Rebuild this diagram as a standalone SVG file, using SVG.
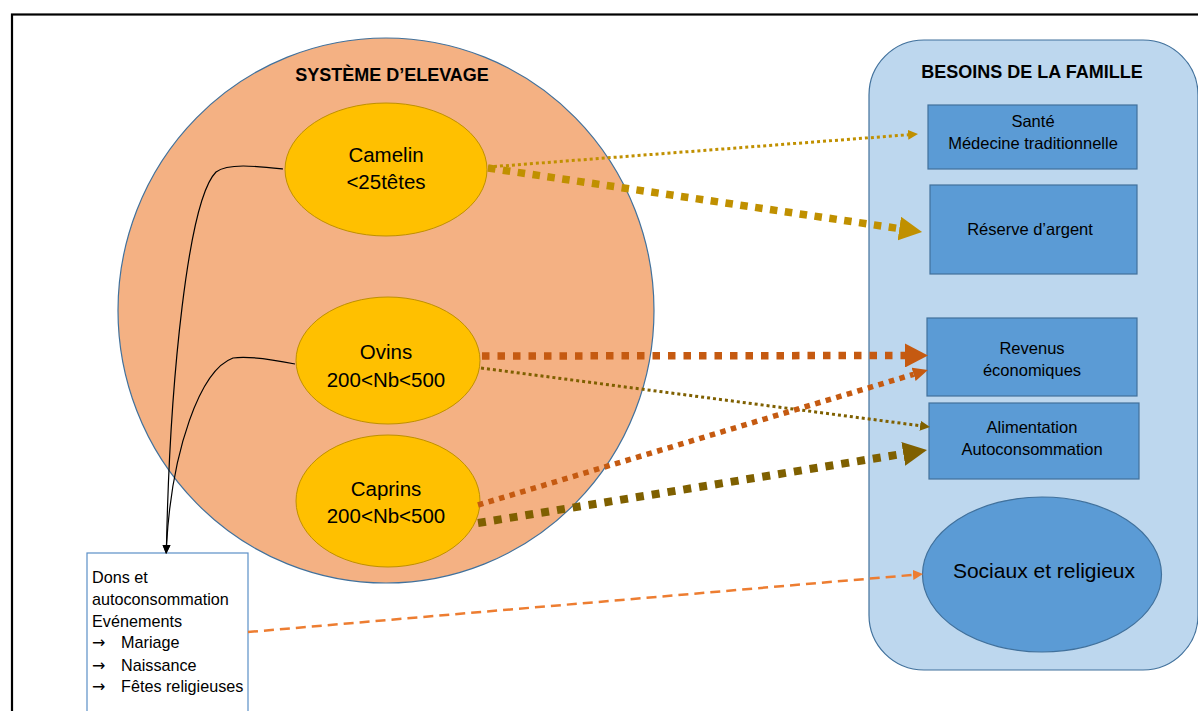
<svg xmlns="http://www.w3.org/2000/svg" width="1198" height="711" viewBox="0 0 1198 711">
<style>
text{font-family:"Liberation Sans",Arial,sans-serif;fill:#000}
.title{font-weight:bold;font-size:18px;text-anchor:middle}
.anim{font-size:20.5px;text-anchor:middle}
.box{font-size:16.5px;text-anchor:middle}
.dons{font-size:16.2px}
.arr{font-family:"DejaVu Sans",sans-serif;font-size:16px}
.yel{fill:#FFC000;stroke:#BF9000;stroke-width:1}
.bx{fill:#5B9BD5;stroke:#41719C;stroke-width:1.2}
.c{fill:none}
</style>
<defs>
<marker id="aGs" markerUnits="userSpaceOnUse" markerWidth="12" markerHeight="12" refX="0" refY="5" orient="auto" viewBox="0 0 12 10"><path d="M0,0 L10,5 L0,10 z" fill="#C09000"/></marker>
<marker id="aGl" markerUnits="userSpaceOnUse" markerWidth="24" markerHeight="24" refX="0" refY="12" orient="auto" viewBox="0 0 24 24"><path d="M0,0 L23,12 L0,24 z" fill="#C09000"/></marker>
<marker id="aOl" markerUnits="userSpaceOnUse" markerWidth="24" markerHeight="24" refX="0" refY="12" orient="auto" viewBox="0 0 24 24"><path d="M0,0 L23,12 L0,24 z" fill="#C55A11"/></marker>
<marker id="aOm" markerUnits="userSpaceOnUse" markerWidth="16" markerHeight="16" refX="0" refY="7" orient="auto" viewBox="0 0 16 14"><path d="M0,0 L15,7 L0,14 z" fill="#C55A11"/></marker>
<marker id="aVs" markerUnits="userSpaceOnUse" markerWidth="12" markerHeight="12" refX="0" refY="5" orient="auto" viewBox="0 0 12 10"><path d="M0,0 L10,5 L0,10 z" fill="#7F6000"/></marker>
<marker id="aVl" markerUnits="userSpaceOnUse" markerWidth="25" markerHeight="24" refX="0" refY="12" orient="auto" viewBox="0 0 25 24"><path d="M0,0 L24,12 L0,24 z" fill="#7F6000"/></marker>
<marker id="aL" markerUnits="userSpaceOnUse" markerWidth="12" markerHeight="12" refX="0" refY="5" orient="auto" viewBox="0 0 12 10"><path d="M0,0 L10,5 L0,10 z" fill="#ED7D31"/></marker>
<marker id="aK" markerUnits="userSpaceOnUse" markerWidth="10" markerHeight="10" refX="0" refY="4" orient="auto" viewBox="0 0 10 8"><path d="M0,0 L9,4 L0,8 z" fill="#000"/></marker>
</defs>
<rect width="1198" height="711" fill="#fff"/>
<rect x="12" y="14.5" width="1300" height="800" fill="none" stroke="#000" stroke-width="2.2"/>

<g id="systeme">
<ellipse cx="386" cy="310.5" rx="268" ry="272.5" fill="#F4B183" stroke="#41719C" stroke-width="1.2"/>
<text class="title" x="392" y="81">SYSTÈME D’ELEVAGE</text>
</g>
<g id="camelin">
<ellipse class="yel" cx="386" cy="169.5" rx="101" ry="66.5"/>
<text class="anim" x="386" y="162">Camelin</text>
<text class="anim" x="386" y="189">&lt;25têtes</text>
</g>
<g id="ovins">
<ellipse class="yel" cx="388" cy="360.5" rx="92" ry="63.5"/>
<text class="anim" x="386" y="359">Ovins</text>
<text class="anim" x="386" y="387">200&lt;Nb&lt;500</text>
</g>
<g id="caprins">
<ellipse class="yel" cx="388" cy="501" rx="92" ry="66"/>
<text class="anim" x="386" y="496">Caprins</text>
<text class="anim" x="386" y="523">200&lt;Nb&lt;500</text>
</g>

<g id="dons">
<rect x="87" y="553" width="161" height="200" fill="#fff" stroke="#5B8FC7" stroke-width="1.2"/>
<text class="dons" x="92" y="583">Dons et</text>
<text class="dons" x="92" y="605">autoconsommation</text>
<text class="dons" x="92" y="627">Evénements</text>
<text class="arr" x="92" y="648">→</text><text class="dons" x="121" y="648">Mariage</text>
<text class="arr" x="92" y="671">→</text><text class="dons" x="121" y="671">Naissance</text>
<text class="arr" x="92" y="692">→</text><text class="dons" x="121" y="692">Fêtes religieuses</text>
</g>

<g id="besoins">
<rect x="869" y="40" width="329" height="630" rx="55" ry="55" fill="#BDD7EE" stroke="#41719C" stroke-width="1.2"/>
<text class="title" x="1032" y="78">BESOINS DE LA FAMILLE</text>
</g>
<g id="sante">
<rect class="bx" x="928" y="105" width="209" height="64"/>
<text class="box" x="1033" y="127">Santé</text>
<text class="box" x="1033" y="149">Médecine traditionnelle</text>
</g>
<g id="reserve">
<rect class="bx" x="930" y="185" width="207" height="89"/>
<text class="box" x="1030" y="235">Réserve d’argent</text>
</g>
<g id="revenus">
<rect class="bx" x="927" y="318" width="210" height="78"/>
<text class="box" x="1032" y="354">Revenus</text>
<text class="box" x="1032" y="376">économiques</text>
</g>
<g id="alimentation">
<rect class="bx" x="929" y="403" width="210" height="76"/>
<text class="box" x="1032" y="433">Alimentation</text>
<text class="box" x="1032" y="455">Autoconsommation</text>
</g>
<g id="sociaux">
<ellipse class="bx" cx="1042" cy="574.5" rx="119.5" ry="77.5"/>
<text x="1044" y="578" font-size="21" text-anchor="middle">Sociaux et religieux</text>
</g>

<g id="connectors">
<path class="c" d="M283,169 C255,166 228,163 216,172 C188,200 170,380 166.5,545" stroke="#000" stroke-width="1.2" marker-end="url(#aK)"/>
<path class="c" d="M295,364 C270,359 246,356 233,358 C200,370 172,450 166.5,545" stroke="#000" stroke-width="1.2" marker-end="url(#aK)"/>
<line x1="488" y1="167" x2="908" y2="134.8" stroke="#C09000" stroke-width="3" stroke-dasharray="3 3" marker-end="url(#aGs)"/>
<line x1="488" y1="168" x2="899.3" y2="228.6" stroke="#C09000" stroke-width="7.5" stroke-dasharray="7.5 7.5" marker-end="url(#aGl)"/>
<line x1="482" y1="356" x2="905" y2="355.5" stroke="#C55A11" stroke-width="7.5" stroke-dasharray="7.5 8" marker-end="url(#aOl)"/>
<line x1="481" y1="368" x2="920.1" y2="425.7" stroke="#7F6000" stroke-width="3" stroke-dasharray="3 3" marker-end="url(#aVs)"/>
<line x1="478" y1="505" x2="913.6" y2="374.3" stroke="#C55A11" stroke-width="5.5" stroke-dasharray="5.5 5.5" marker-end="url(#aOm)"/>
<line x1="478" y1="523" x2="903.3" y2="453.8" stroke="#7F6000" stroke-width="8" stroke-dasharray="8 8" marker-end="url(#aVl)"/>
<line x1="248" y1="632" x2="913" y2="574.9" stroke="#ED7D31" stroke-width="2.5" stroke-dasharray="10 6" marker-end="url(#aL)"/>
</g>
</svg>
